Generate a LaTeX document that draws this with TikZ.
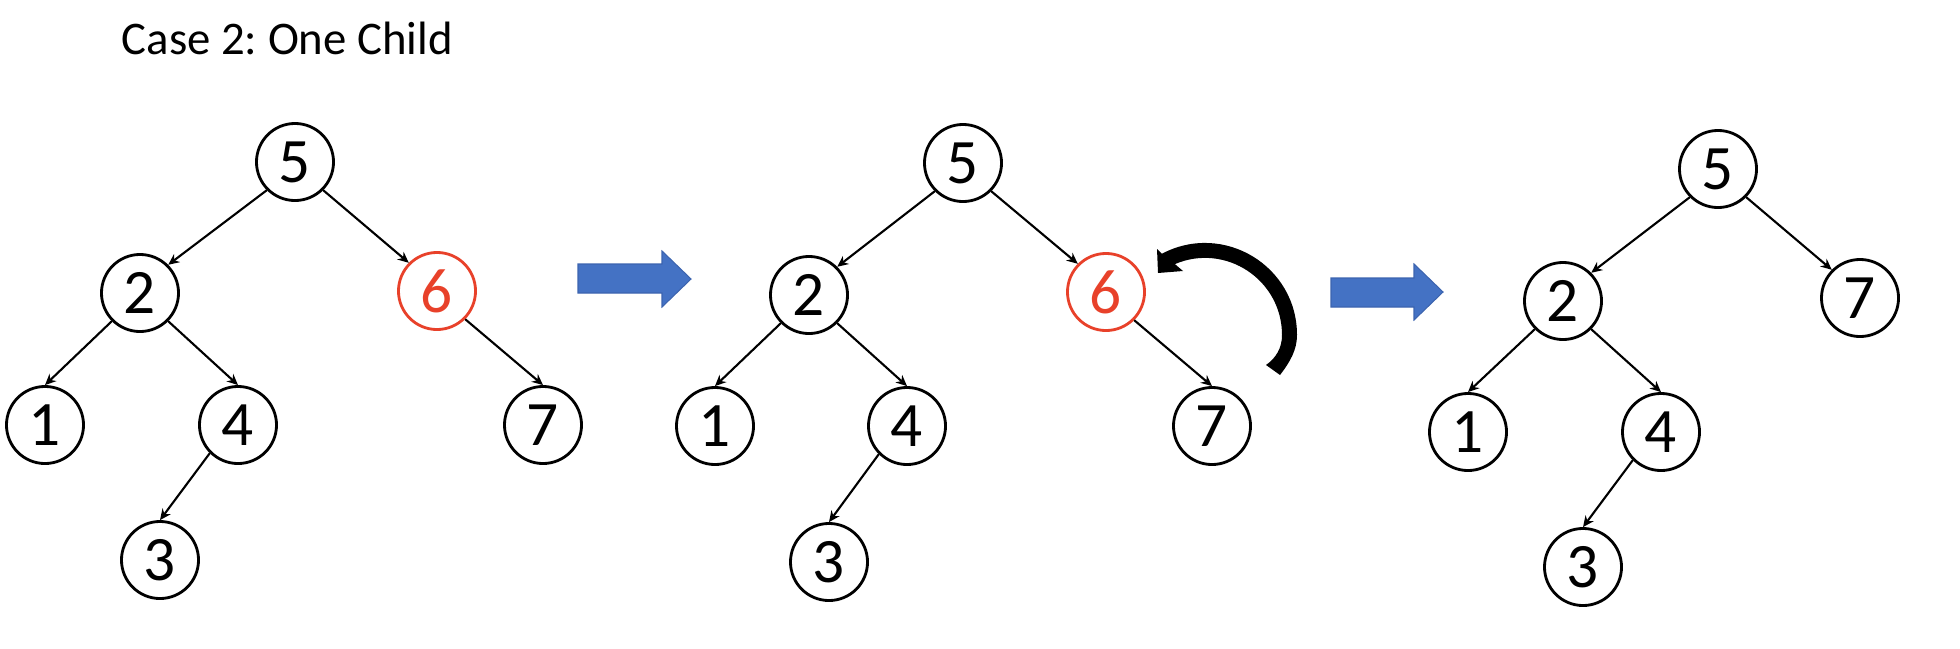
\documentclass[tikz,border=0pt]{standalone}
\usepackage{fontspec}
\setmainfont{Carlito}
\usetikzlibrary{arrows.meta}
\definecolor{delred}{RGB}{232,65,42}
\definecolor{pblue}{RGB}{68,114,196}
\definecolor{pblueedge}{RGB}{60,100,175}
\frenchspacing
\begin{document}
\begin{tikzpicture}[x=0.01cm,y=-0.01cm,
  tnode/.style={circle,draw=black,line width=0.8pt,minimum size=0.77cm,inner sep=0pt,
    font=\fontsize{18}{20}\selectfont},
  delnode/.style={tnode,draw=delred,text=delred},
  tedge/.style={line width=0.6pt,-{Stealth[length=1.1mm,width=1mm]}},
  bigarrow/.style={fill=pblue,draw=pblueedge,line width=0.3pt},
  turnarrow/.style={fill=black}
]
\useasboundingbox (0,0) rectangle (1960,648);

\node[anchor=base west,inner sep=0pt,font=\fontsize{13.3}{16}\selectfont] (title) at (121,54) {Case 2: One Child};

% Tree 1
\node[tnode] (a5) at (295,162) {5};
\node[tnode] (a2) at (140,293) {2};
\node[delnode] (a6) at (437,291) {6};
\node[tnode] (a1) at (45,425) {1};
\node[tnode] (a4) at (238,425) {4};
\node[tnode] (a7) at (543,425) {7};
\node[tnode] (a3) at (160,560) {3};
\draw[tedge] (a5.south west) -- (a2.north east);
\draw[tedge] (a5.south east) -- (a6.north west);
\draw[tedge] (a2.south west) -- (a1.north);
\draw[tedge] (a2.south east) -- (a4.north);
\draw[tedge] (a4.south west) -- (a3.north);
\draw[tedge] (a6.south east) -- (a7.north);

% Arrow 1
\draw[bigarrow] (578,264) -- (662,264) -- (662,251) -- (691,279) -- (662,307) -- (662,293) -- (578,293) -- cycle;

% Tree 2
\node[tnode] (b5) at (963,163) {5};
\node[tnode] (b2) at (809,295) {2};
\node[delnode] (b6) at (1106,292) {6};
\node[tnode] (b1) at (715,426) {1};
\node[tnode] (b4) at (907,426) {4};
\node[tnode] (b7) at (1212,426) {7};
\node[tnode] (b3) at (829,562) {3};
\draw[tedge] (b5.south west) -- (b2.north east);
\draw[tedge] (b5.south east) -- (b6.north west);
\draw[tedge] (b2.south west) -- (b1.north);
\draw[tedge] (b2.south east) -- (b4.north);
\draw[tedge] (b4.south west) -- (b3.north);
\draw[tedge] (b6.south east) -- (b7.north);

% Curved arrow
\fill[turnarrow] (1158,273) -- (1183,271) -- (1174.9,264.1)
  .. controls (1225.7,242.5) and (1282,279.8) .. (1282,335)
  .. controls (1282,348) and (1276,358) .. (1266,365)
  -- (1280,375)
  .. controls (1290,362) and (1297,350) .. (1297,335)
  .. controls (1297,265.6) and (1223.1,221.3) .. (1161.8,253.8)
  -- (1157,249) -- cycle;

% Arrow 2
\draw[bigarrow] (1331,278) -- (1414,278) -- (1414,264) -- (1443,292) -- (1414,320) -- (1414,307) -- (1331,307) -- cycle;

% Tree 3
\node[tnode] (c5) at (1718,169) {5};
\node[tnode] (c2) at (1563,301) {2};
\node[tnode] (c7) at (1860,298) {7};
\node[tnode] (c1) at (1468,432) {1};
\node[tnode] (c4) at (1661,432) {4};
\node[tnode] (c3) at (1583,567) {3};
\draw[tedge] (c5.south west) -- (c2.north east);
\draw[tedge] (c5.south east) -- (c7.north west);
\draw[tedge] (c2.south west) -- (c1.north);
\draw[tedge] (c2.south east) -- (c4.north);
\draw[tedge] (c4.south west) -- (c3.north);
\end{tikzpicture}
\end{document}
